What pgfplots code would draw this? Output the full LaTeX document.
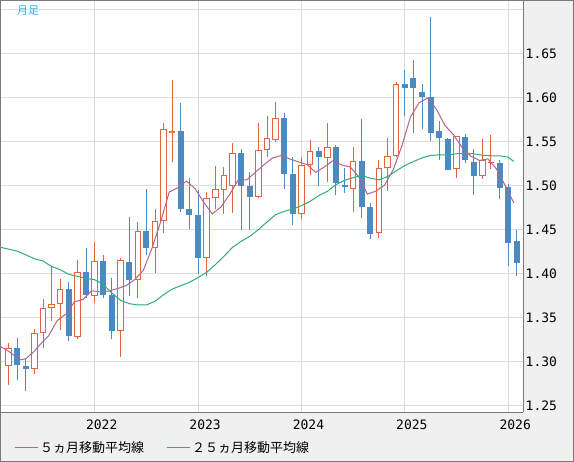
\documentclass[border=0pt]{standalone}
\usepackage{fontspec}
\usepackage{pgfplots}
\usepackage{pgfplotstable}
\pgfplotsset{compat=1.18}
\newfontfamily\tickfont{DejaVu Sans Mono}
\newfontfamily\jpfont{Noto Sans CJK JP}
\definecolor{upred}{HTML}{DF6540}
\definecolor{dnblue}{HTML}{4B8BC1}
\definecolor{maA}{HTML}{B5648C}
\definecolor{maB}{HTML}{2DB074}
\definecolor{gridc}{HTML}{DDDDDD}
\definecolor{bgc}{HTML}{F0F0F0}
\definecolor{framec}{HTML}{7A7A7A}
\definecolor{titlec}{HTML}{33B5E8}

\pgfplotstableread{
x o h l c
2 1.2953 1.3218 1.2738 1.3161
5 1.2923 1.3380 1.2859 1.3331
6 1.3327 1.3720 1.3157 1.3614
7 1.3614 1.4075 1.3463 1.3659
8 1.3659 1.3947 1.3369 1.3829
10 1.3286 1.4162 1.3267 1.4022
12 1.3750 1.4358 1.3667 1.4147
15 1.3354 1.4177 1.3059 1.4158
17 1.3931 1.4588 1.3724 1.4486
19 1.4294 1.4739 1.4007 1.4600
20 1.4602 1.5720 1.4462 1.5648
21 1.5606 1.6208 1.5269 1.5629
25 1.4182 1.4932 1.3973 1.4864
26 1.4864 1.5231 1.4735 1.4970
27 1.4955 1.5220 1.4686 1.5125
28 1.5004 1.5492 1.4693 1.5375
31 1.4875 1.5720 1.4860 1.5409
32 1.5409 1.5799 1.5333 1.5545
33 1.5523 1.5958 1.5500 1.5773
36 1.4682 1.5333 1.4621 1.5239
37 1.5239 1.5527 1.5121 1.5398
39 1.5318 1.5720 1.5049 1.5443
42 1.4963 1.5438 1.4709 1.5282
45 1.4463 1.5293 1.4413 1.5202
46 1.5202 1.5548 1.4948 1.5339
47 1.5339 1.6178 1.5328 1.6159
54 1.5191 1.5570 1.5092 1.5563
57 1.5111 1.5536 1.5085 1.5290
58 1.5259 1.5582 1.5195 1.5278
}\upTable

\pgfplotstableread{
x o h l c
3 1.3161 1.3278 1.2791 1.2965
4 1.2950 1.3029 1.2670 1.2919
9 1.3833 1.3913 1.3233 1.3293
11 1.4026 1.4298 1.3727 1.3758
13 1.4150 1.4218 1.3727 1.3758
14 1.3765 1.3958 1.3259 1.3350
16 1.4139 1.4653 1.3754 1.3928
18 1.4490 1.4966 1.4218 1.4290
22 1.5629 1.5947 1.4701 1.4735
23 1.4739 1.5095 1.4508 1.4667
24 1.4674 1.4958 1.4000 1.4178
29 1.5379 1.5424 1.4496 1.5004
30 1.5004 1.5163 1.4496 1.4871
34 1.5777 1.5833 1.4970 1.5133
35 1.5140 1.5333 1.4553 1.4678
38 1.5402 1.5443 1.4996 1.5326
40 1.5447 1.5466 1.4898 1.5034
41 1.5011 1.5205 1.4917 1.5000
43 1.5282 1.5756 1.4641 1.4766
44 1.4762 1.4812 1.4402 1.4459
48 1.6159 1.6322 1.5791 1.6109
49 1.6231 1.6436 1.5601 1.6109
50 1.6071 1.6162 1.5643 1.6007
51 1.6014 1.6917 1.5506 1.5608
52 1.5627 1.5741 1.5294 1.5540
53 1.5533 1.5540 1.5180 1.5187
55 1.5559 1.5593 1.5256 1.5290
56 1.5271 1.5422 1.4903 1.5119
59 1.5267 1.5294 1.4853 1.4982
60 1.4986 1.5020 1.4095 1.4356
61 1.4375 1.4500 1.3977 1.4129
}\dnTable

\pgfplotstableread{
x y
1.0 1.3180
2.0 1.3123
3.0 1.3048
3.4 1.3026
4.0 1.3036
5.0 1.3123
5.65 1.3198
6.65 1.3298
7.65 1.3470
8.65 1.3545
9.65 1.3683
10.65 1.3712
11.65 1.3810
12.65 1.3796
13.65 1.3807
14.65 1.3834
15.65 1.3868
16.65 1.3936
17.65 1.4042
18.65 1.4292
19.65 1.4590
20.65 1.4931
21.65 1.4980
22.65 1.5056
23.65 1.4971
24.65 1.4815
25.65 1.4683
26.65 1.4761
27.65 1.4902
28.65 1.5068
29.65 1.5069
30.65 1.5157
31.65 1.5241
32.65 1.5320
33.65 1.5346
34.65 1.5308
35.65 1.5274
36.65 1.5244
37.65 1.5155
38.65 1.5217
39.65 1.5288
40.65 1.5240
41.65 1.5217
42.65 1.5105
43.65 1.4908
44.65 1.4942
45.65 1.5010
46.65 1.5185
47.65 1.5454
48.65 1.5784
49.65 1.5945
50.65 1.6000
51.65 1.5875
52.65 1.5690
53.65 1.5581
54.65 1.5438
55.65 1.5340
56.65 1.5290
57.65 1.5308
58.65 1.5192
59.65 1.5005
60.65 1.4807
}\maFive

\pgfplotstableread{
x y
1.0 1.4305
2 1.4283
3 1.4260
4 1.4218
5 1.4173
6 1.4147
7 1.4086
8 1.4048
9 1.3996
10 1.3973
11 1.3950
12 1.3935
13 1.3879
14 1.3784
15 1.3701
16 1.3663
17 1.3648
18 1.3648
19 1.3690
20 1.3765
21 1.3829
22 1.3867
23 1.3905
24 1.3960
25 1.4019
26 1.4106
27 1.4201
28 1.4303
29 1.4371
30 1.4428
31 1.4504
32 1.4591
33 1.4674
34 1.4712
35 1.4739
36 1.4777
37 1.4826
38 1.4890
39 1.4939
40 1.5015
41 1.5064
42 1.5096
43 1.5119
44 1.5089
45 1.5070
46 1.5108
47 1.5172
48 1.5233
49 1.5278
50 1.5320
51 1.5347
52 1.5354
53 1.5354
54 1.5366
55 1.5373
56 1.5366
57 1.5350
58 1.5343
59 1.5343
60 1.5328
60.65 1.5278
}\maTwentyFive

\pgfplotsset{candle/.style={forget plot, only marks, mark=*, mark size=0pt,
  mark options={draw=none, fill=none}}}

\begin{document}
\begin{tikzpicture}
\fill[bgc] (0,0) rectangle (574bp,462bp);
\begin{axis}[
  at={(1bp,50bp)}, anchor=south west,
  scale only axis, width=522bp, height=411bp,
  xmin=1.124, xmax=61.716, ymin=1.24318, ymax=1.71023,
  axis background/.style={fill=white},
  axis x line*=bottom, axis y line*=right,
  axis line style={draw=framec, line width=1bp},
  xtick={12,24,36,48,60}, xticklabels={2022,2023,2024,2025,2026},
  ytick={1.25,1.30,1.35,1.40,1.45,1.50,1.55,1.60,1.65,1.70},
  yticklabels={1.25,1.30,1.35,1.40,1.45,1.50,1.55,1.60,1.65,{}},
  major tick length=0pt,
  grid=major, major grid style={draw=gridc, line width=1bp},
  tick label style={font=\tickfont\fontsize{13bp}{13bp}\selectfont, text=black},
  xticklabel style={anchor=center, yshift=-13bp, xshift=7bp},
  yticklabel style={anchor=west, inner sep=0pt, xshift=2.5bp},
  legend columns=2,
  legend style={at={(0,0)}, anchor=north west, xshift=13bp, yshift=-27bp,
    draw=none, fill=none, inner sep=0pt,
    font=\jpfont\fontsize{13bp}{13bp}\selectfont,
    /tikz/every even column/.append style={column sep=20bp}},
  legend cell align=left,
  legend image code/.code={\draw[#1, line width=1bp] (0bp,0bp) -- (18bp,0bp); \path (0bp,0bp) -- (23bp,0bp);},
]
% wicks
\addplot[candle,
  error bars/.cd, y dir=plus, y explicit, error mark=none,
  error bar style={draw=upred, line width=1bp}]
  table[x=x, y=l, y error plus expr={\thisrow{h}-\thisrow{l}}] \upTable;
\addplot[candle,
  error bars/.cd, y dir=plus, y explicit, error mark=none,
  error bar style={draw=dnblue, line width=1bp}]
  table[x=x, y=l, y error plus expr={\thisrow{h}-\thisrow{l}}] \dnTable;
% down bodies
\addplot[candle,
  error bars/.cd, y dir=both, y explicit, error mark=none,
  error bar style={draw=dnblue, line width=6bp, line cap=butt}]
  table[x=x, y expr={(\thisrow{o}+\thisrow{c})/2}, y error expr={abs(\thisrow{o}-\thisrow{c})/2}] \dnTable;
% up bodies (hollow)
\addplot[candle,
  error bars/.cd, y dir=both, y explicit, error mark=none,
  error bar style={draw=upred, line width=6.5bp, line cap=butt}]
  table[x=x, y expr={(\thisrow{o}+\thisrow{c})/2}, y error expr={abs(\thisrow{o}-\thisrow{c})/2}] \upTable;
\addplot[candle,
  error bars/.cd, y dir=both, y explicit, error mark=none,
  error bar style={draw=white, line width=4.5bp, line cap=butt}]
  table[x=x, y expr={(\thisrow{o}+\thisrow{c})/2}, y error expr={max(abs(\thisrow{o}-\thisrow{c})/2-0.00114,0)}] \upTable;
% moving averages
\addplot[maA, line width=1bp, mark=none] table[x=x, y=y] \maFive;
\addlegendentry{５ヵ月移動平均線}
\addplot[maB, line width=1bp, mark=none] table[x=x, y=y] \maTwentyFive;
\addlegendentry{２５ヵ月移動平均線}
\node[anchor=west, inner sep=0pt, text=titlec, font=\jpfont\fontsize{11bp}{11bp}\selectfont]
  at (rel axis cs:0,1) [xshift=16bp, yshift=-9.5bp] {月足};
\end{axis}
\draw[framec, line width=1bp] (0.5bp,0.5bp) rectangle (573.5bp,461.5bp);
\end{tikzpicture}
\end{document}
